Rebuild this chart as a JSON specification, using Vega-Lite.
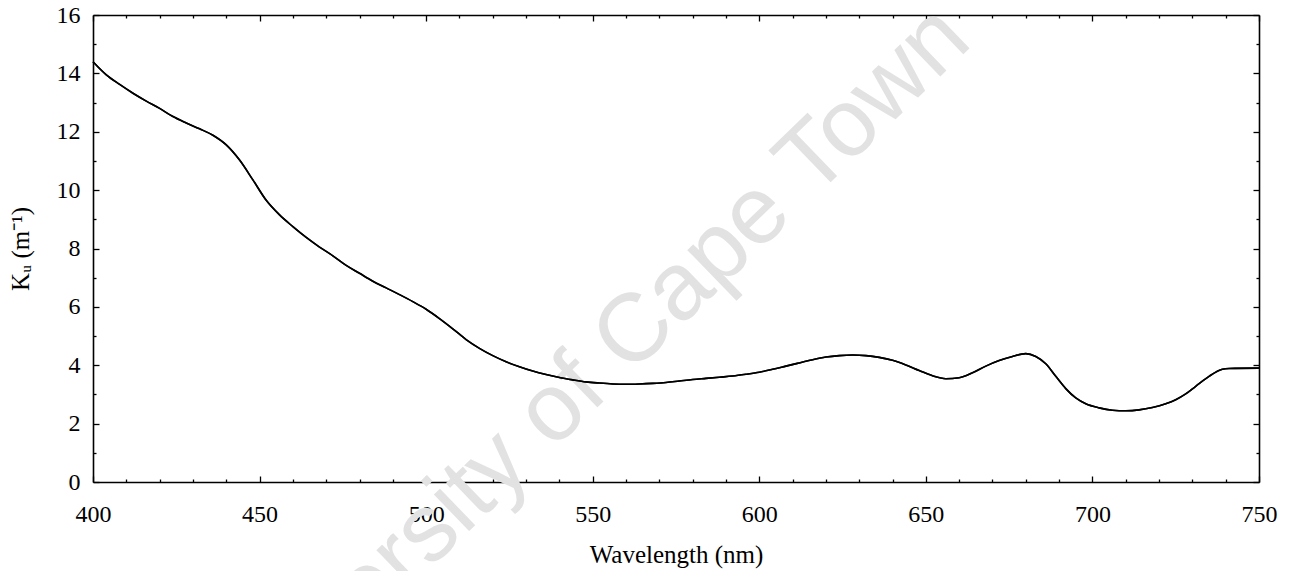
{
  "$schema": "https://vega.github.io/schema/vega-lite/v6.json",
  "width": 1166,
  "height": 467,
  "autosize": {"type": "none"},
  "padding": {"left": 93, "top": 15, "right": 36, "bottom": 89},
  "background": "white",
  "config": {
    "view": {"stroke": null},
    "font": "Liberation Serif",
    "axis": {
      "grid": false,
      "domainColor": "black",
      "domainWidth": 1.6,
      "tickColor": "black",
      "tickWidth": 1.3,
      "labelFont": "Liberation Serif",
      "labelFontSize": 24,
      "labelColor": "black",
      "titleFont": "Liberation Serif",
      "titleFontSize": 25,
      "titleFontWeight": "normal",
      "titleColor": "black"
    }
  },
  "datasets": {
    "spectrum": [
      {"wavelength": 400, "ku": 14.40}, {"wavelength": 404, "ku": 13.95}, {"wavelength": 408, "ku": 13.62},
      {"wavelength": 412, "ku": 13.32}, {"wavelength": 416, "ku": 13.05}, {"wavelength": 420, "ku": 12.80},
      {"wavelength": 424, "ku": 12.52}, {"wavelength": 428, "ku": 12.30}, {"wavelength": 432, "ku": 12.10},
      {"wavelength": 436, "ku": 11.88}, {"wavelength": 440, "ku": 11.55}, {"wavelength": 444, "ku": 11.03},
      {"wavelength": 448, "ku": 10.35}, {"wavelength": 452, "ku": 9.65}, {"wavelength": 456, "ku": 9.15},
      {"wavelength": 460, "ku": 8.75}, {"wavelength": 464, "ku": 8.38}, {"wavelength": 468, "ku": 8.05},
      {"wavelength": 472, "ku": 7.75}, {"wavelength": 476, "ku": 7.42}, {"wavelength": 480, "ku": 7.15},
      {"wavelength": 484, "ku": 6.88}, {"wavelength": 488, "ku": 6.65}, {"wavelength": 492, "ku": 6.42},
      {"wavelength": 496, "ku": 6.18}, {"wavelength": 500, "ku": 5.92}, {"wavelength": 504, "ku": 5.60},
      {"wavelength": 508, "ku": 5.25}, {"wavelength": 512, "ku": 4.88}, {"wavelength": 516, "ku": 4.58},
      {"wavelength": 520, "ku": 4.33}, {"wavelength": 524, "ku": 4.12}, {"wavelength": 528, "ku": 3.95},
      {"wavelength": 532, "ku": 3.80}, {"wavelength": 536, "ku": 3.68}, {"wavelength": 540, "ku": 3.58},
      {"wavelength": 544, "ku": 3.50}, {"wavelength": 548, "ku": 3.43}, {"wavelength": 552, "ku": 3.39},
      {"wavelength": 556, "ku": 3.36}, {"wavelength": 560, "ku": 3.35}, {"wavelength": 564, "ku": 3.36},
      {"wavelength": 568, "ku": 3.38}, {"wavelength": 572, "ku": 3.41}, {"wavelength": 576, "ku": 3.46},
      {"wavelength": 580, "ku": 3.51}, {"wavelength": 584, "ku": 3.55}, {"wavelength": 588, "ku": 3.59},
      {"wavelength": 592, "ku": 3.63}, {"wavelength": 596, "ku": 3.69}, {"wavelength": 600, "ku": 3.76},
      {"wavelength": 604, "ku": 3.86}, {"wavelength": 608, "ku": 3.97}, {"wavelength": 612, "ku": 4.08},
      {"wavelength": 616, "ku": 4.19}, {"wavelength": 620, "ku": 4.28}, {"wavelength": 624, "ku": 4.33},
      {"wavelength": 628, "ku": 4.35}, {"wavelength": 632, "ku": 4.33}, {"wavelength": 636, "ku": 4.27},
      {"wavelength": 640, "ku": 4.17}, {"wavelength": 644, "ku": 4.01}, {"wavelength": 648, "ku": 3.82},
      {"wavelength": 652, "ku": 3.64}, {"wavelength": 656, "ku": 3.54}, {"wavelength": 660, "ku": 3.57},
      {"wavelength": 664, "ku": 3.74}, {"wavelength": 668, "ku": 3.97}, {"wavelength": 672, "ku": 4.16},
      {"wavelength": 676, "ku": 4.30}, {"wavelength": 680, "ku": 4.40}, {"wavelength": 683, "ku": 4.30},
      {"wavelength": 686, "ku": 4.05}, {"wavelength": 689, "ku": 3.62}, {"wavelength": 692, "ku": 3.20},
      {"wavelength": 695, "ku": 2.88}, {"wavelength": 698, "ku": 2.68}, {"wavelength": 702, "ku": 2.54},
      {"wavelength": 706, "ku": 2.46}, {"wavelength": 710, "ku": 2.44}, {"wavelength": 714, "ku": 2.47},
      {"wavelength": 718, "ku": 2.55}, {"wavelength": 722, "ku": 2.68}, {"wavelength": 725, "ku": 2.82},
      {"wavelength": 728, "ku": 3.02}, {"wavelength": 731, "ku": 3.28}, {"wavelength": 735, "ku": 3.62},
      {"wavelength": 739, "ku": 3.86}, {"wavelength": 741, "ku": 3.89}, {"wavelength": 750, "ku": 3.90}
    ],
    "stamp": [
      {"wavelength": 546.8, "ku": 3.43, "text": "University of Cape Town"}
    ]
  },
  "layer": [
    {
      "data": {"name": "stamp"},
      "mark": {"type": "text", "font": "Liberation Sans", "fontSize": 96, "color": "#e2e2e2", "angle": -44, "align": "center", "baseline": "middle"},
      "encoding": {
        "x": {"field": "wavelength", "type": "quantitative", "scale": {"domain": [400, 750], "nice": false, "zero": false}, "axis": null},
        "y": {"field": "ku", "type": "quantitative", "scale": {"domain": [0, 16], "nice": false}, "axis": null},
        "text": {"field": "text"}
      }
    },
    {
      "data": {"name": "spectrum"},
      "mark": {"type": "line", "color": "black", "strokeWidth": 1.6, "interpolate": "monotone"},
      "encoding": {
        "x": {
          "field": "wavelength", "type": "quantitative",
          "scale": {"domain": [400, 750], "nice": false, "zero": false},
          "axis": {
            "orient": "bottom", "title": "Wavelength (nm)",
            "values": [400, 410, 420, 430, 440, 450, 460, 470, 480, 490, 500, 510, 520, 530, 540, 550, 560, 570, 580, 590, 600, 610, 620, 630, 640, 650, 660, 670, 680, 690, 700, 710, 720, 730, 740, 750],
            "labelExpr": "datum.value % 50 === 0 ? datum.label : ''",
            "tickSize": {"condition": {"test": "datum.value % 50 === 0", "value": -6}, "value": -3},
            "labelPadding": 26, "labelFlush": false, "labelOverlap": false, "titlePadding": 13
          }
        },
        "y": {
          "field": "ku", "type": "quantitative",
          "scale": {"domain": [0, 16], "nice": false},
          "axis": {
            "orient": "left", "title": "Kᵤ (m⁻¹)",
            "values": [0, 1, 2, 3, 4, 5, 6, 7, 8, 9, 10, 11, 12, 13, 14, 15, 16],
            "labelExpr": "datum.value % 2 === 0 ? datum.label : ''",
            "tickSize": {"condition": {"test": "datum.value % 2 === 0", "value": -6}, "value": -3},
            "labelPadding": 19, "labelFlush": false, "labelOverlap": false, "titlePadding": 23
          }
        }
      }
    },
    {
      "data": {"name": "spectrum"},
      "mark": {"type": "line", "color": "black", "strokeWidth": 1.6, "interpolate": "monotone"},
      "encoding": {
        "x": {
          "field": "wavelength", "type": "quantitative",
          "scale": {"domain": [400, 750], "nice": false, "zero": false},
          "axis": {
            "orient": "top", "title": null, "labels": false,
            "values": [400, 410, 420, 430, 440, 450, 460, 470, 480, 490, 500, 510, 520, 530, 540, 550, 560, 570, 580, 590, 600, 610, 620, 630, 640, 650, 660, 670, 680, 690, 700, 710, 720, 730, 740, 750],
            "tickSize": {"condition": {"test": "datum.value % 50 === 0", "value": -6}, "value": -3}
          }
        },
        "y": {
          "field": "ku", "type": "quantitative",
          "scale": {"domain": [0, 16], "nice": false},
          "axis": {
            "orient": "right", "title": null, "labels": false,
            "values": [0, 1, 2, 3, 4, 5, 6, 7, 8, 9, 10, 11, 12, 13, 14, 15, 16],
            "tickSize": {"condition": {"test": "datum.value % 2 === 0", "value": -6}, "value": -3}
          }
        }
      }
    }
  ],
  "resolve": {"axis": {"x": "independent", "y": "independent"}}
}
